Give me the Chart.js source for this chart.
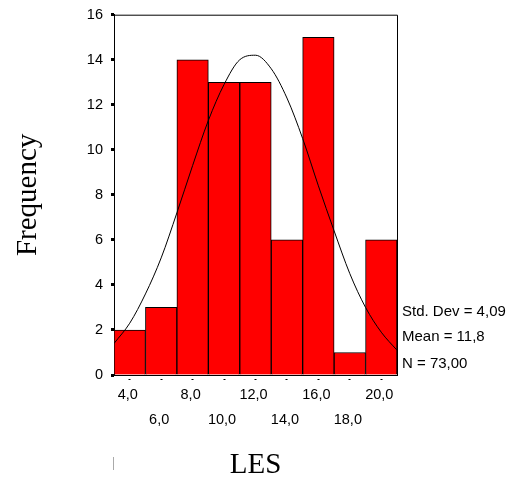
<!DOCTYPE html>
<html><head><meta charset="utf-8">
<script src="https://cdn.jsdelivr.net/npm/chart.js@4/dist/chart.umd.min.js"></script>
<style>html,body{margin:0;padding:0;background:#fff;}</style>
</head><body>
<canvas id="c" width="511" height="481"></canvas>
<script>
// ---- data ----
const binCenters = [4, 6, 8, 10, 12, 14, 16, 18, 20];
const frequencies = [2, 3, 14, 13, 13, 6, 15, 1, 6];
const curveX = [3, 4, 5, 6, 7, 8, 9, 10, 11, 12, 13, 14, 15, 16, 17, 18, 19, 20, 21];
const curveY = [1.4, 2.3, 3.6, 5.2, 7.2, 9.3, 11.3, 12.9, 14.0, 14.2, 13.6, 12.3, 10.5, 8.4, 6.4, 4.5, 3.0, 1.9, 1.1];
const xTickValues = [4, 6, 8, 10, 12, 14, 16, 18, 20];
const xTickLabels = ['4,0', '6,0', '8,0', '10,0', '12,0', '14,0', '16,0', '18,0', '20,0'];
const yTickValues = [0, 2, 4, 6, 8, 10, 12, 14, 16];
const statLines = ['Std. Dev = 4,09', 'Mean = 11,8', 'N = 73,00'];
const xTitle = 'LES';
const yTitle = 'Frequency';

const frameAndNotes = {
  id: 'frameAndNotes',
  afterDatasetsDraw(chart) {
    const {ctx, chartArea: a} = chart;
    ctx.save();
    ctx.strokeStyle = '#000';
    ctx.lineWidth = 1;
    ctx.beginPath();
    ctx.moveTo(a.left, a.top + 0.5);
    ctx.lineTo(a.right + 0.5, a.top + 0.5);
    ctx.lineTo(a.right + 0.5, a.bottom);
    ctx.stroke();
    ctx.restore();
  },
  afterDraw(chart) {
    const {ctx, chartArea: a} = chart;
    ctx.save();
    ctx.fillStyle = '#000';
    ctx.font = '15px "Liberation Sans", Arial, sans-serif';
    ctx.textBaseline = 'middle';
    ctx.textAlign = 'left';
    const ys = [312, 337, 364];
    statLines.forEach((t, i) => ctx.fillText(t, a.right + 5, ys[i]));
    ctx.strokeStyle = '#aaa';
    ctx.lineWidth = 1;
    ctx.beginPath();
    ctx.moveTo(113.5, 457);
    ctx.lineTo(113.5, 470);
    ctx.stroke();
    ctx.restore();
  }
};

Chart.defaults.color = '#000';
new Chart(document.getElementById('c'), {
  type: 'bar',
  data: {
    datasets: [
      {
        type: 'line',
        data: curveX.map((x, i) => ({x, y: curveY[i]})),
        borderColor: '#000', borderWidth: 1, pointRadius: 0,
        cubicInterpolationMode: 'monotone', fill: false, order: 0
      },
      {
        type: 'bar',
        data: binCenters.map((x, i) => ({x, y: frequencies[i]})),
        backgroundColor: '#ff0000', borderColor: '#000', borderWidth: 1,
        barPercentage: 1, categoryPercentage: 1, order: 1
      }
    ]
  },
  options: {
    responsive: false,
    animation: false,
    layout: {padding: {top: 14, right: 114, left: 0, bottom: 0}},
    plugins: {legend: {display: false}, tooltip: {enabled: false}},
    scales: {
      x: {
        type: 'linear', min: 3, max: 21, offset: false,
        grid: {offset: false, drawOnChartArea: false, drawTicks: true, tickLength: 5, tickWidth: 2,
               tickColor: '#000', tickBorderDash: [2, 10], tickBorderDashOffset: -3},
        border: {display: true, color: '#000', width: 1},
        afterBuildTicks: s => { s.ticks = xTickValues.map(v => ({value: v})); },
        ticks: {
          autoSkip: false, maxRotation: 0, minRotation: 0, padding: 2, labelOffset: -2, color: '#000',
          font: {family: '"Liberation Sans", Arial, sans-serif', size: 14.5, lineHeight: '25px'},
          callback: (v, i) => (i % 2 === 0 ? [xTickLabels[i]] : ['', xTickLabels[i]])
        },
        title: {display: true, text: xTitle, color: '#000', padding: 0,
                font: {family: '"Liberation Serif", "Times New Roman", serif', size: 29, lineHeight: '32px'}},
        afterFit: s => { s.height = 106; }
      },
      y: {
        min: 0, max: 16,
        afterBuildTicks: s => { s.ticks = yTickValues.map(v => ({value: v})); },
        grid: {drawOnChartArea: false, drawTicks: true, tickLength: 5, tickWidth: 3,
               tickColor: '#000', tickBorderDash: [3, 10], tickBorderDashOffset: -2},
        border: {display: true, color: '#000', width: 1},
        ticks: {padding: 6, color: '#000',
                font: {family: '"Liberation Sans", Arial, sans-serif', size: 14.5},
                callback: v => String(v)},
        title: {display: true, text: yTitle, color: '#000', padding: 0,
                font: {family: '"Liberation Serif", "Times New Roman", serif', size: 29, lineHeight: '56px'}},
        afterFit: s => { s.width = 114; }
      }
    }
  },
  plugins: [frameAndNotes]
});
</script>
</body></html>
